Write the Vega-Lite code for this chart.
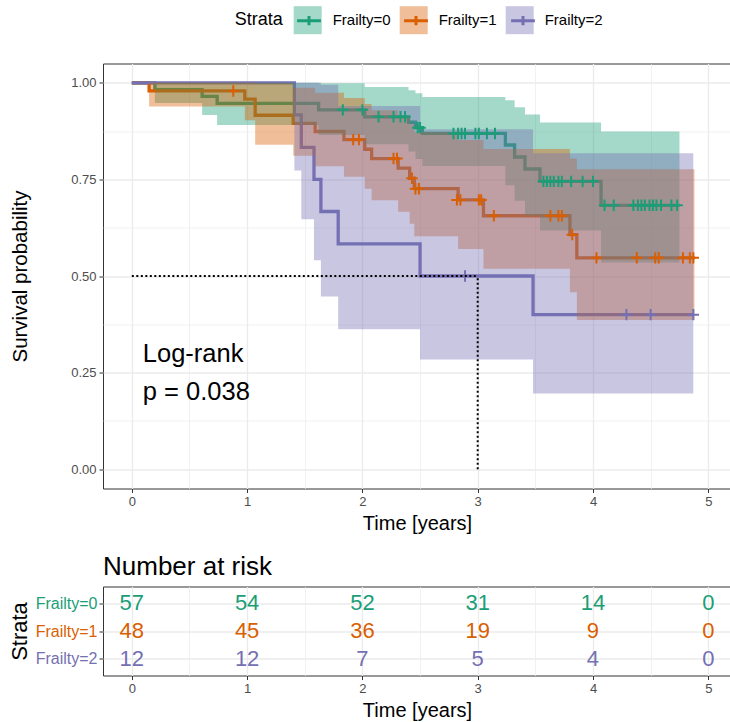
{
  "$schema": "https://vega.github.io/schema/vega-lite/v6.json",
  "padding": {"left": 7, "top": 4.5, "right": 0, "bottom": 3},
  "background": "white",
  "config": {
    "font": "Liberation Sans",
    "view": {"stroke": "#333333", "strokeWidth": 1},
    "axis": {"domain": false, "tickColor": "#333333", "labelColor": "#4D4D4D", "labelFontSize": 13, "titleFontSize": 20, "titleFontWeight": "normal", "titleColor": "black", "gridColor": "#EBEBEB", "tickSize": 4, "labelPadding": 3, "labelFlush": false},
    "title": {"font": "Liberation Sans", "fontWeight": "normal", "color": "black"}
  },
  "datasets": {
    "km": [
      {"g": "Frailty=0", "t": 0, "s": 1, "lo": 1, "hi": 1},
      {"g": "Frailty=0", "t": 0.2, "s": 0.982, "lo": 0.948, "hi": 1},
      {"g": "Frailty=0", "t": 0.61, "s": 0.965, "lo": 0.917, "hi": 1},
      {"g": "Frailty=0", "t": 0.74, "s": 0.947, "lo": 0.891, "hi": 1},
      {"g": "Frailty=0", "t": 1.62, "s": 0.93, "lo": 0.865, "hi": 0.999},
      {"g": "Frailty=0", "t": 2.02, "s": 0.912, "lo": 0.841, "hi": 0.989},
      {"g": "Frailty=0", "t": 2.4, "s": 0.898, "lo": 0.822, "hi": 0.981},
      {"g": "Frailty=0", "t": 2.46, "s": 0.884, "lo": 0.803, "hi": 0.973},
      {"g": "Frailty=0", "t": 2.52, "s": 0.869, "lo": 0.785, "hi": 0.963},
      {"g": "Frailty=0", "t": 3.24, "s": 0.839, "lo": 0.735, "hi": 0.955},
      {"g": "Frailty=0", "t": 3.32, "s": 0.808, "lo": 0.695, "hi": 0.937},
      {"g": "Frailty=0", "t": 3.41, "s": 0.777, "lo": 0.656, "hi": 0.918},
      {"g": "Frailty=0", "t": 3.54, "s": 0.745, "lo": 0.618, "hi": 0.897},
      {"g": "Frailty=0", "t": 4.07, "s": 0.683, "lo": 0.535, "hi": 0.874},
      {"g": "Frailty=0", "t": 4.75, "s": 0.683, "lo": 0.535, "hi": 0.874},
      {"g": "Frailty=1", "t": 0, "s": 1, "lo": 1, "hi": 1},
      {"g": "Frailty=1", "t": 0.15, "s": 0.979, "lo": 0.939, "hi": 1},
      {"g": "Frailty=1", "t": 0.98, "s": 0.958, "lo": 0.903, "hi": 1},
      {"g": "Frailty=1", "t": 1.07, "s": 0.916, "lo": 0.84, "hi": 0.999},
      {"g": "Frailty=1", "t": 1.4, "s": 0.895, "lo": 0.811, "hi": 0.987},
      {"g": "Frailty=1", "t": 1.59, "s": 0.874, "lo": 0.784, "hi": 0.974},
      {"g": "Frailty=1", "t": 1.84, "s": 0.853, "lo": 0.757, "hi": 0.961},
      {"g": "Frailty=1", "t": 2.02, "s": 0.828, "lo": 0.726, "hi": 0.945},
      {"g": "Frailty=1", "t": 2.08, "s": 0.804, "lo": 0.696, "hi": 0.929},
      {"g": "Frailty=1", "t": 2.31, "s": 0.779, "lo": 0.666, "hi": 0.912},
      {"g": "Frailty=1", "t": 2.41, "s": 0.753, "lo": 0.635, "hi": 0.893},
      {"g": "Frailty=1", "t": 2.45, "s": 0.726, "lo": 0.603, "hi": 0.873},
      {"g": "Frailty=1", "t": 2.83, "s": 0.697, "lo": 0.57, "hi": 0.852},
      {"g": "Frailty=1", "t": 3.05, "s": 0.656, "lo": 0.519, "hi": 0.829},
      {"g": "Frailty=1", "t": 3.8, "s": 0.607, "lo": 0.458, "hi": 0.804},
      {"g": "Frailty=1", "t": 3.86, "s": 0.547, "lo": 0.386, "hi": 0.776},
      {"g": "Frailty=1", "t": 4.88, "s": 0.547, "lo": 0.386, "hi": 0.776},
      {"g": "Frailty=2", "t": 0, "s": 1, "lo": 1, "hi": 1},
      {"g": "Frailty=2", "t": 1.41, "s": 0.917, "lo": 0.773, "hi": 1},
      {"g": "Frailty=2", "t": 1.47, "s": 0.833, "lo": 0.647, "hi": 1},
      {"g": "Frailty=2", "t": 1.58, "s": 0.75, "lo": 0.541, "hi": 1},
      {"g": "Frailty=2", "t": 1.64, "s": 0.667, "lo": 0.447, "hi": 0.995},
      {"g": "Frailty=2", "t": 1.79, "s": 0.583, "lo": 0.362, "hi": 0.94},
      {"g": "Frailty=2", "t": 2.5, "s": 0.5, "lo": 0.284, "hi": 0.88},
      {"g": "Frailty=2", "t": 3.48, "s": 0.4, "lo": 0.196, "hi": 0.818},
      {"g": "Frailty=2", "t": 4.87, "s": 0.4, "lo": 0.196, "hi": 0.818}
    ],
    "cens": [
      {"g": "Frailty=0", "t": 1.83, "s": 0.93}, {"g": "Frailty=0", "t": 2.0, "s": 0.93},
      {"g": "Frailty=0", "t": 2.14, "s": 0.912}, {"g": "Frailty=0", "t": 2.27, "s": 0.912}, {"g": "Frailty=0", "t": 2.33, "s": 0.912}, {"g": "Frailty=0", "t": 2.37, "s": 0.912},
      {"g": "Frailty=0", "t": 2.48, "s": 0.884}, {"g": "Frailty=0", "t": 2.5, "s": 0.884},
      {"g": "Frailty=0", "t": 2.79, "s": 0.869}, {"g": "Frailty=0", "t": 2.83, "s": 0.869}, {"g": "Frailty=0", "t": 2.86, "s": 0.869}, {"g": "Frailty=0", "t": 2.89, "s": 0.869}, {"g": "Frailty=0", "t": 2.98, "s": 0.869}, {"g": "Frailty=0", "t": 3.01, "s": 0.869}, {"g": "Frailty=0", "t": 3.08, "s": 0.869}, {"g": "Frailty=0", "t": 3.15, "s": 0.869},
      {"g": "Frailty=0", "t": 3.57, "s": 0.745}, {"g": "Frailty=0", "t": 3.6, "s": 0.745}, {"g": "Frailty=0", "t": 3.63, "s": 0.745}, {"g": "Frailty=0", "t": 3.66, "s": 0.745}, {"g": "Frailty=0", "t": 3.7, "s": 0.745}, {"g": "Frailty=0", "t": 3.73, "s": 0.745}, {"g": "Frailty=0", "t": 3.81, "s": 0.745}, {"g": "Frailty=0", "t": 3.91, "s": 0.745}, {"g": "Frailty=0", "t": 4.0, "s": 0.745},
      {"g": "Frailty=0", "t": 4.1, "s": 0.683}, {"g": "Frailty=0", "t": 4.18, "s": 0.683}, {"g": "Frailty=0", "t": 4.35, "s": 0.683}, {"g": "Frailty=0", "t": 4.39, "s": 0.683}, {"g": "Frailty=0", "t": 4.42, "s": 0.683}, {"g": "Frailty=0", "t": 4.45, "s": 0.683}, {"g": "Frailty=0", "t": 4.49, "s": 0.683}, {"g": "Frailty=0", "t": 4.52, "s": 0.683}, {"g": "Frailty=0", "t": 4.55, "s": 0.683}, {"g": "Frailty=0", "t": 4.59, "s": 0.683}, {"g": "Frailty=0", "t": 4.68, "s": 0.683}, {"g": "Frailty=0", "t": 4.73, "s": 0.683},
      {"g": "Frailty=1", "t": 0.88, "s": 0.979},
      {"g": "Frailty=1", "t": 1.92, "s": 0.853}, {"g": "Frailty=1", "t": 1.97, "s": 0.853},
      {"g": "Frailty=1", "t": 2.27, "s": 0.804}, {"g": "Frailty=1", "t": 2.3, "s": 0.804},
      {"g": "Frailty=1", "t": 2.43, "s": 0.753},
      {"g": "Frailty=1", "t": 2.46, "s": 0.726}, {"g": "Frailty=1", "t": 2.49, "s": 0.726},
      {"g": "Frailty=1", "t": 2.82, "s": 0.697}, {"g": "Frailty=1", "t": 2.85, "s": 0.697}, {"g": "Frailty=1", "t": 3.01, "s": 0.697}, {"g": "Frailty=1", "t": 3.03, "s": 0.697},
      {"g": "Frailty=1", "t": 3.14, "s": 0.656}, {"g": "Frailty=1", "t": 3.63, "s": 0.656}, {"g": "Frailty=1", "t": 3.7, "s": 0.656}, {"g": "Frailty=1", "t": 3.73, "s": 0.656},
      {"g": "Frailty=1", "t": 3.82, "s": 0.607},
      {"g": "Frailty=1", "t": 4.03, "s": 0.547}, {"g": "Frailty=1", "t": 4.38, "s": 0.547}, {"g": "Frailty=1", "t": 4.54, "s": 0.547}, {"g": "Frailty=1", "t": 4.57, "s": 0.547}, {"g": "Frailty=1", "t": 4.78, "s": 0.547}, {"g": "Frailty=1", "t": 4.84, "s": 0.547}, {"g": "Frailty=1", "t": 4.87, "s": 0.547},
      {"g": "Frailty=2", "t": 2.89, "s": 0.5},
      {"g": "Frailty=2", "t": 4.29, "s": 0.4}, {"g": "Frailty=2", "t": 4.5, "s": 0.4}, {"g": "Frailty=2", "t": 4.87, "s": 0.4}
    ],
    "median": [
      {"x": 0, "x2": 3.0, "y": 0.5, "y2": 0.5},
      {"x": 3.0, "x2": 3.0, "y": 0, "y2": 0.5}
    ],
    "ann": [
      {"t": 0.095, "s": 0.277, "label": "Log-rank"},
      {"t": 0.095, "s": 0.178, "label": "p = 0.038"}
    ],
    "risk": [
      {"g": "Frailty=0", "t": 0, "n": 57}, {"g": "Frailty=0", "t": 1, "n": 54}, {"g": "Frailty=0", "t": 2, "n": 52}, {"g": "Frailty=0", "t": 3, "n": 31}, {"g": "Frailty=0", "t": 4, "n": 14}, {"g": "Frailty=0", "t": 5, "n": 0},
      {"g": "Frailty=1", "t": 0, "n": 48}, {"g": "Frailty=1", "t": 1, "n": 45}, {"g": "Frailty=1", "t": 2, "n": 36}, {"g": "Frailty=1", "t": 3, "n": 19}, {"g": "Frailty=1", "t": 4, "n": 9}, {"g": "Frailty=1", "t": 5, "n": 0},
      {"g": "Frailty=2", "t": 0, "n": 12}, {"g": "Frailty=2", "t": 1, "n": 12}, {"g": "Frailty=2", "t": 2, "n": 7}, {"g": "Frailty=2", "t": 3, "n": 5}, {"g": "Frailty=2", "t": 4, "n": 4}, {"g": "Frailty=2", "t": 5, "n": 0}
    ]
  },
  "spacing": 18,
  "vconcat": [
    {
      "width": 628,
      "height": 425,
      "encoding": {
        "x": {"field": "t", "type": "quantitative",
          "scale": {"domain": [-0.25, 5.197], "nice": false, "zero": false},
          "axis": {"title": "Time [years]", "titlePadding": 5,
            "values": [0, 0.5, 1, 1.5, 2, 2.5, 3, 3.5, 4, 4.5, 5],
            "labelExpr": "datum.value % 1 === 0 ? format(datum.value, 'd') : ''",
            "tickColor": {"condition": {"test": "datum.value % 1 !== 0", "value": "transparent"}, "value": "#333333"},
            "gridWidth": {"condition": {"test": "datum.value % 1 !== 0", "value": 0.7}, "value": 1.3}}},
        "y": {"field": "s", "type": "quantitative",
          "scale": {"domain": [-0.05, 1.05], "nice": false, "zero": false},
          "axis": {"title": "Survival probability", "titleFontSize": 20.5, "titlePadding": 40,
            "values": [0, 0.125, 0.25, 0.375, 0.5, 0.625, 0.75, 0.875, 1],
            "labelExpr": "(datum.value * 4) % 1 === 0 ? format(datum.value, '.2f') : ''",
            "tickColor": {"condition": {"test": "(datum.value * 4) % 1 !== 0", "value": "transparent"}, "value": "#333333"},
            "gridWidth": {"condition": {"test": "(datum.value * 4) % 1 !== 0", "value": 0.7}, "value": 1.3}}}
      },
      "layer": [
        {
          "data": {"name": "km"},
          "mark": {"type": "line", "interpolate": "step-after", "strokeWidth": 3.3},
          "encoding": {
            "stroke": {"field": "g", "type": "nominal",
              "scale": {"domain": ["Frailty=0", "Frailty=1", "Frailty=2"], "range": ["#1B9E77", "#D95F02", "#7570B3"]},
              "legend": {"orient": "none", "legendX": 190.5, "legendY": -58.8, "direction": "horizontal",
                "title": null,
                "labelFontSize": 15, "labelOffset": 0, "columnPadding": 70, "labelExpr": "''",
                "symbolType": "M-0.85,0H0.85M0,-0.33V0.33", "symbolSize": 784, "symbolStrokeWidth": 3, "symbolFillColor": "transparent", "zindex": 2}}
          }
        },
        {
          "data": {"name": "km"},
          "mark": {"type": "area", "interpolate": "step-after", "opacity": 0.4},
          "encoding": {
            "y": {"field": "lo", "type": "quantitative"},
            "y2": {"field": "hi"},
            "fill": {"field": "g", "type": "nominal",
              "scale": {"range": ["#1B9E77", "#D95F02", "#7570B3"]},
              "legend": {"orient": "none", "legendX": 131.7, "legendY": -57.3, "direction": "horizontal",
                "title": "Strata", "titleOrient": "left", "titleAnchor": "middle", "titleBaseline": "middle", "titleFontSize": 18, "titleFontWeight": "normal", "titlePadding": 10,
                "labelFontSize": 15, "labelOffset": 11, "columnPadding": 9, "labelColor": "black",
                "symbolType": "square", "symbolSize": 784, "symbolOpacity": 0.4, "symbolStrokeWidth": 0, "zindex": 1}}
          }
        },
        {
          "data": {"name": "cens"},
          "mark": {"type": "point", "shape": "M-1,0H1M0,-1V1", "filled": false, "size": 130, "strokeWidth": 2, "opacity": 1},
          "encoding": {
            "color": {"field": "g", "type": "nominal",
              "scale": {"domain": ["Frailty=0", "Frailty=1", "Frailty=2"], "range": ["#1B9E77", "#D95F02", "#7570B3"]},
              "legend": null}
          }
        },
        {
          "data": {"name": "median"},
          "mark": {"type": "rule", "color": "black", "strokeWidth": 2, "strokeDash": [2, 2.5]},
          "encoding": {
            "x": {"field": "x", "type": "quantitative"},
            "x2": {"field": "x2"},
            "y": {"field": "y", "type": "quantitative"},
            "y2": {"field": "y2"}
          }
        },
        {
          "data": {"name": "ann"},
          "mark": {"type": "text", "align": "left", "baseline": "alphabetic", "fontSize": 25.5, "color": "black"},
          "encoding": {
            "text": {"field": "label"}
          }
        }
      ]
    },
    {
      "width": 628,
      "height": 89,
      "title": {"text": "Number at risk", "anchor": "start", "frame": "group", "fontSize": 26, "offset": 7},
      "data": {"name": "risk"},
      "mark": {"type": "text", "fontSize": 22},
      "encoding": {
        "x": {"field": "t", "type": "quantitative",
          "scale": {"domain": [-0.25, 5.197], "nice": false, "zero": false},
          "axis": {"title": "Time [years]", "titlePadding": 5,
            "values": [0, 0.5, 1, 1.5, 2, 2.5, 3, 3.5, 4, 4.5, 5],
            "labelExpr": "datum.value % 1 === 0 ? format(datum.value, 'd') : ''",
            "tickColor": {"condition": {"test": "datum.value % 1 !== 0", "value": "transparent"}, "value": "#333333"},
            "gridWidth": {"condition": {"test": "datum.value % 1 !== 0", "value": 0.7}, "value": 1.3}}},
        "y": {"field": "g", "type": "ordinal",
          "scale": {"type": "point", "padding": 0.6, "domain": ["Frailty=0", "Frailty=1", "Frailty=2"]},
          "axis": {"title": "Strata", "titleFontSize": 22, "titlePadding": 4, "grid": true, "gridWidth": 1.3, "labelFontSize": 16, "labelPadding": 2,
            "labelColor": {"condition": [{"test": "datum.value === 'Frailty=0'", "value": "#1B9E77"}, {"test": "datum.value === 'Frailty=1'", "value": "#D95F02"}], "value": "#7570B3"}}},
        "text": {"field": "n", "type": "quantitative"},
        "color": {"field": "g", "type": "nominal",
          "scale": {"domain": ["Frailty=0", "Frailty=1", "Frailty=2"], "range": ["#1B9E77", "#D95F02", "#7570B3"]},
          "legend": null}
      }
    }
  ]
}
